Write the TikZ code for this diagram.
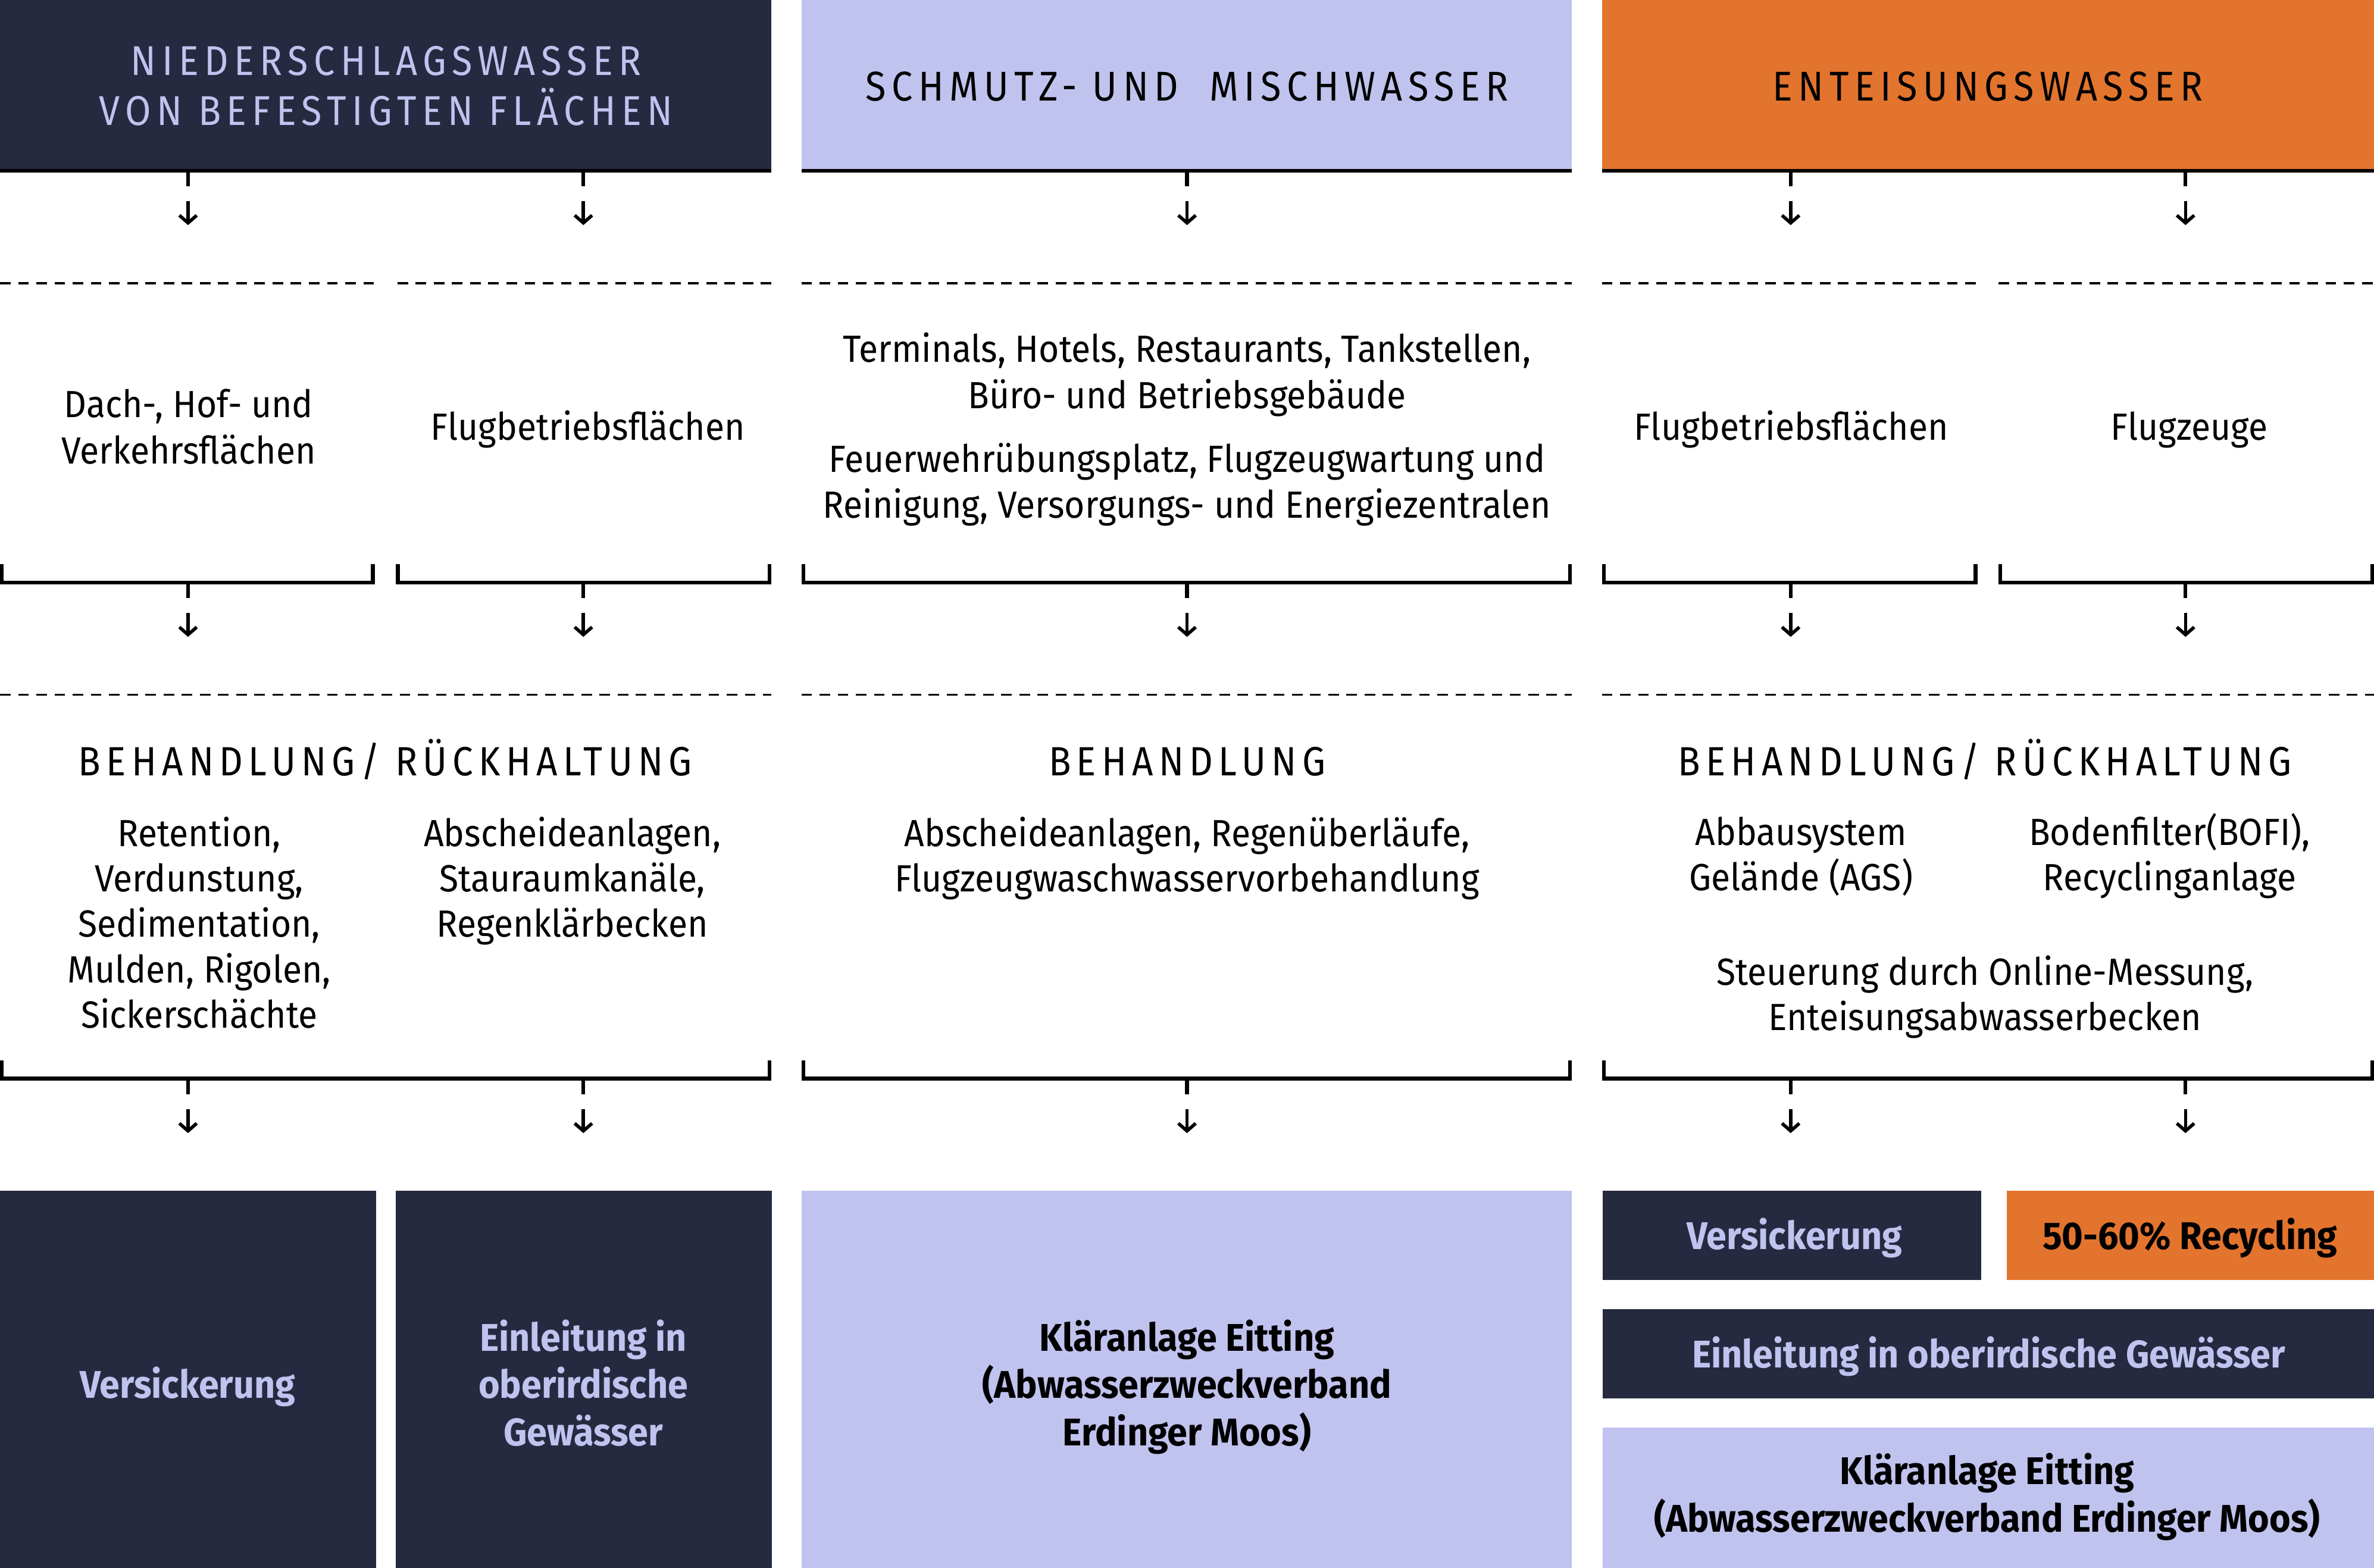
\documentclass[tikz,border=0pt]{standalone}
\usepackage{fontspec}
\usetikzlibrary{arrows.meta}
\setmainfont[FakeStretch=0.925]{Fira Sans}
\newfontfamily\boxfont[FakeStretch=0.942]{Fira Sans}
\newfontfamily\capsfont[FakeStretch=0.9,LetterSpace=13.5]{Fira Sans}
\definecolor{navy}{RGB}{37,42,64}
\definecolor{lav}{RGB}{192,195,238}
\definecolor{orng}{RGB}{227,116,46}
\tikzset{
  every node/.style={inner sep=0pt, outer sep=0pt},
  body/.style={font=\fontsize{25}{30}\selectfont, anchor=base, text=black},
  capt/.style={font=\capsfont\fontsize{27}{33}\selectfont, anchor=base, text=black},
  headt/.style={font=\capsfont\fontsize{27.5}{33}\selectfont, anchor=base, text=black},
  boxtxt/.style={font=\boxfont\bfseries\fontsize{25.5}{31}\selectfont, anchor=base},
  panel/.style={anchor=north west, draw=none},
  bar/.style={line width=2.5pt, line cap=butt, line join=miter},
  dashline/.style={line width=1.4pt, dash pattern=on 7pt off 5pt},
  stub/.style={line width=2.4pt},
  arr/.style={line width=2.2pt, -{Straight Barb[length=5pt,width=11.5pt]}},
}
% flow arrow below a bar: name, x, y of bar
\newcommand\flowdown[3]{%
  \coordinate (#1a) at (#2,{#3+1.2});
  \coordinate (#1b) at (#2,{#3+10.5});
  \coordinate (#1c) at (#2,{#3+20});
  \coordinate (#1d) at (#2,{#3+36});
  \draw[stub] (#1a) -- (#1b);
  \draw[arr] (#1c) -- (#1d);
}
% bracket: name, x1, x2, y
\newcommand\bracketbar[4]{%
  \coordinate (#1p) at ({#2+1.25},{#4-12});
  \coordinate (#1q) at ({#2+1.25},#4);
  \coordinate (#1r) at ({#3-1.25},#4);
  \coordinate (#1s) at ({#3-1.25},{#4-12});
  \draw[bar] (#1p) -- (#1q) -- (#1r) -- (#1s);
}
% dashed separator: name, x1, x2, y
\newcommand\sepline[4]{%
  \coordinate (#1l) at (#2,#4);
  \coordinate (#1r) at (#3,#4);
  \draw[dashline] (#1l) -- (#1r);
}
\begin{document}
\begin{tikzpicture}[x=1pt,y=-1pt]
\useasboundingbox (0,0) rectangle (1568,1035.4);

% ---------- headers ----------
\node[panel, fill=navy, minimum width=509.5pt, minimum height=112.5pt] (H1) at (0,0) {};
\node[panel, fill=lav,  minimum width=509pt,   minimum height=112.5pt] (H2) at (529.3,0) {};
\node[panel, fill=orng, minimum width=510pt,   minimum height=112.5pt] (H3) at (1058,0) {};
\coordinate (L1a) at (0,112.7);      \coordinate (L1b) at (509.5,112.7);
\coordinate (L2a) at (529.3,112.7);  \coordinate (L2b) at (1038.3,112.7);
\coordinate (L3a) at (1058,112.7);   \coordinate (L3b) at (1568,112.7);
\draw[bar] (L1a) -- (L1b);
\draw[bar] (L2a) -- (L2b);
\draw[bar] (L3a) -- (L3b);

\node[headt, text=lav] (h1a) at (255,49.6) {NIEDERSCHLAGSWASSER};
\node[headt, text=lav] (h1b) at (255,82.7) {VON BEFESTIGTEN FLÄCHEN};
\node[headt] (h2) at (784,66.7) {SCHMUTZ- UND\ \ MISCHWASSER};
\node[headt] (h3) at (1313,66.7) {ENTEISUNGSWASSER};

% ---------- arrows below headers ----------
\flowdown{a11}{124.2}{112.7}
\flowdown{a12}{385.3}{112.7}
\flowdown{a21}{784}{112.7}
\flowdown{a31}{1182.7}{112.7}
\flowdown{a32}{1443.5}{112.7}

% ---------- row 1 separators ----------
\sepline{s11}{0}{247.5}{187}
\sepline{s12}{262.5}{509.5}{187}
\sepline{s21}{529.3}{1038.3}{187}
\sepline{s31}{1058}{1306}{187}
\sepline{s32}{1320}{1568}{187}

% ---------- row 1 texts ----------
\node[body] (t11a) at (124.6,275.7) {Dach-, Hof- und};
\node[body] (t11b) at (124.6,306.3) {Verkehrsflächen};
\node[body] (t12)  at (388.3,290.8) {Flugbetriebsflächen};
\node[body] (t21a) at (784,239.3) {Terminals, Hotels, Restaurants, Tankstellen,};
\node[body] (t21b) at (784,269.8) {Büro- und Betriebsgebäude};
\node[body] (t21c) at (784,312) {Feuerwehrübungsplatz, Flugzeugwartung und};
\node[body] (t21d) at (784,342) {Reinigung, Versorgungs- und Energiezentralen};
\node[body] (t31)  at (1183,290.8) {Flugbetriebsflächen};
\node[body] (t32)  at (1446,290.8) {Flugzeuge};

% ---------- row 1 brackets ----------
\bracketbar{b11}{0}{247.5}{384.7}
\bracketbar{b12}{261.5}{509.5}{384.7}
\bracketbar{b21}{529.3}{1038.3}{384.7}
\bracketbar{b31}{1058}{1306}{384.7}
\bracketbar{b32}{1320}{1568}{384.7}
\flowdown{c11}{124.2}{384.7}
\flowdown{c12}{385.3}{384.7}
\flowdown{c21}{784}{384.7}
\flowdown{c31}{1182.7}{384.7}
\flowdown{c32}{1443.5}{384.7}

% ---------- row 2 separators ----------
\sepline{s41}{0}{509.5}{459}
\sepline{s42}{529.3}{1038.3}{459}
\sepline{s43}{1058}{1568}{459}

% ---------- row 2 texts ----------
\node[capt] (r1) at (254.5,512.3) {BEHANDLUNG/ RÜCKHALTUNG};
\node[capt] (r2) at (784,512.3) {BEHANDLUNG};
\node[capt] (r3) at (1311,512.3) {BEHANDLUNG/ RÜCKHALTUNG};

\node[body] (u1a) at (131.6,559) {Retention,};
\node[body] (u1b) at (131.6,589) {Verdunstung,};
\node[body] (u1c) at (131.6,619) {Sedimentation,};
\node[body] (u1d) at (131.6,649) {Mulden, Rigolen,};
\node[body] (u1e) at (131.6,679) {Sickerschächte};
\node[body] (u2a) at (378,559) {Abscheideanlagen,};
\node[body] (u2b) at (378,589) {Stauraumkanäle,};
\node[body] (u2c) at (378,619) {Regenklärbecken};
\node[body] (u3a) at (784,559) {Abscheideanlagen, Regenüberläufe,};
\node[body] (u3b) at (784,589) {Flugzeugwaschwasservorbehandlung};
\node[body] (u4a) at (1189.5,558.3) {Abbausystem};
\node[body] (u4b) at (1189.5,588.4) {Gelände (AGS)};
\node[body] (u5a) at (1433,558.3) {Bodenfilter(BOFI),};
\node[body] (u5b) at (1433,588.4) {Recyclinganlage};
\node[body] (u6a) at (1311,650.6) {Steuerung durch Online-Messung,};
\node[body] (u6b) at (1311,680.6) {Enteisungsabwasserbecken};

% ---------- row 2 brackets ----------
\bracketbar{b41}{0}{509.5}{712.5}
\bracketbar{b42}{529.3}{1038.3}{712.5}
\bracketbar{b43}{1058}{1568}{712.5}
\flowdown{d11}{124.2}{712.5}
\flowdown{d12}{385.3}{712.5}
\flowdown{d21}{784}{712.5}
\flowdown{d31}{1182.7}{712.5}
\flowdown{d32}{1443.5}{712.5}

% ---------- result boxes ----------
\node[panel, fill=navy, minimum width=248.4pt, minimum height=249pt] (B1) at (0,786.6) {};
\node[panel, fill=navy, minimum width=248.4pt, minimum height=249pt] (B2) at (261.3,786.6) {};
\node[panel, fill=lav,  minimum width=509pt,   minimum height=249pt] (B3) at (529.3,786.6) {};
\node[panel, fill=navy, minimum width=250.1pt, minimum height=59.2pt] (B4) at (1058.5,786.5) {};
\node[panel, fill=orng, minimum width=242.6pt, minimum height=59.2pt] (B5) at (1325.4,786.5) {};
\node[panel, fill=navy, minimum width=509.5pt, minimum height=59.2pt] (B6) at (1058.5,864.7) {};
\node[panel, fill=lav,  minimum width=509.5pt, minimum height=93pt]   (B7) at (1058.5,942.9) {};

\node[boxtxt, text=lav] (v1)  at (123.9,923.4) {Versickerung};
\node[boxtxt, text=lav] (e1a) at (385.3,892.5) {Einleitung in};
\node[boxtxt, text=lav] (e1b) at (385.3,923.4) {oberirdische};
\node[boxtxt, text=lav] (e1c) at (385.3,954.8) {Gewässer};
\node[boxtxt] (k1a) at (784,892.5) {Kläranlage Eitting};
\node[boxtxt] (k1b) at (784,923.4) {(Abwasserzweckverband};
\node[boxtxt] (k1c) at (784,954.8) {Erdinger Moos)};
\node[boxtxt, text=lav] (v2) at (1185.2,825.1) {Versickerung};
\node[boxtxt] (rc) at (1446.4,825.1) {50-60\% Recycling};
\node[boxtxt, text=lav] (e2) at (1313.5,903.5) {Einleitung in oberirdische Gewässer};
\node[boxtxt] (k2a) at (1312.5,980.6) {Kläranlage Eitting};
\node[boxtxt] (k2b) at (1312.5,1011.8) {(Abwasserzweckverband Erdinger Moos)};
\end{tikzpicture}
\end{document}
